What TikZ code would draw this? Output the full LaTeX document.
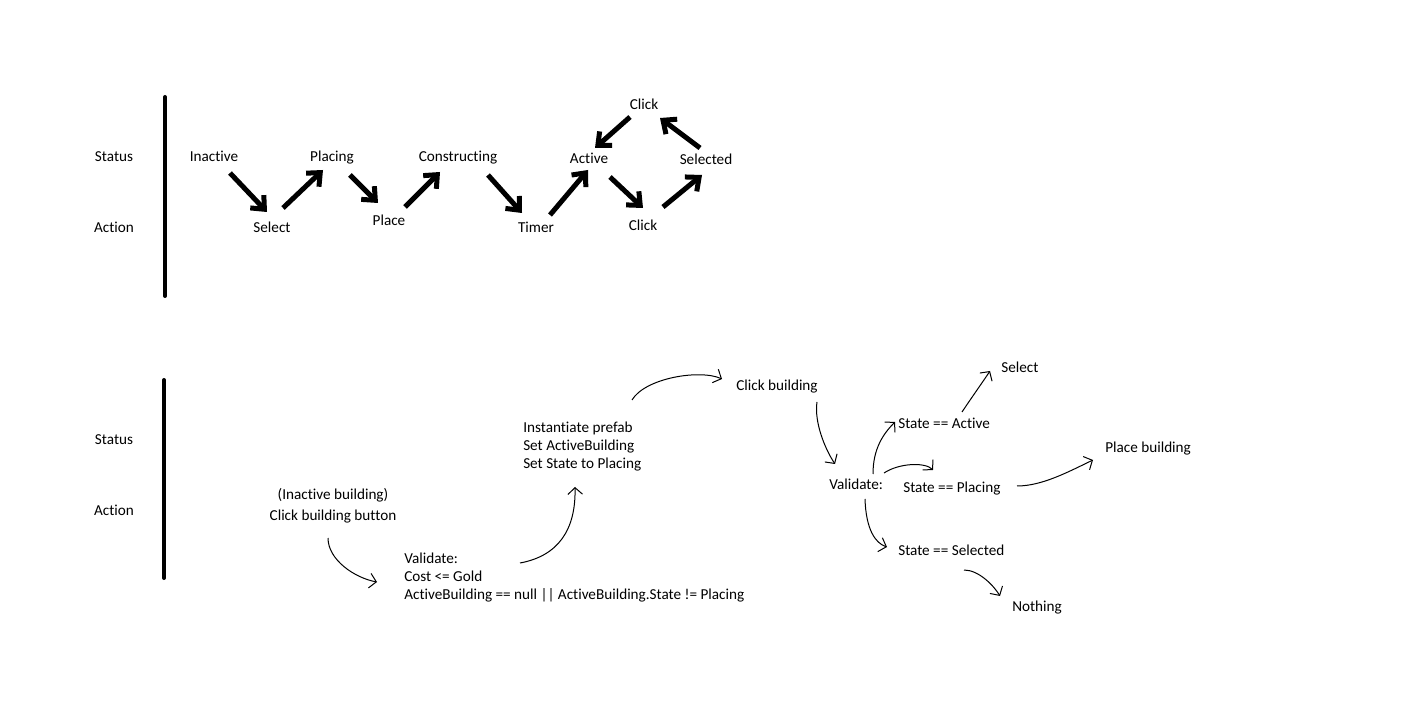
\documentclass[tikz,border=0pt]{standalone}
\usepackage{fontspec}
\setmainfont{Carlito}[Ligatures=NoCommon]
\usetikzlibrary{arrows.meta}
\begin{document}
\begin{tikzpicture}[x=0.75pt,y=-0.75pt,
  lbl/.style={inner sep=0pt,text height=7.5pt,text depth=0pt,yshift=-0.75pt,font=\fontsize{11.4pt}{13.5pt}\selectfont},
  lblw/.style={lbl,anchor=west},
  blk/.style={inner sep=0pt,align=left,anchor=north west,font=\fontsize{11.4pt}{13.5pt}\selectfont},
  bar/.style={line width=3pt,line cap=round},
  bold/.style={line width=3.75pt,-{Straight Barb[length=8pt,width=14pt]}},
  thin/.style={line width=0.75pt,-{Straight Barb[length=5pt,width=11pt]}}]
\useasboundingbox[fill=white] (0,0) rectangle (1418,723);

% ---------- state machine overview ----------
\draw[bar] (165,97) -- (165,296);
\node[lbl] (status1) at (114,156) {Status};
\node[lbl] (action1) at (114,227) {Action};

\node[lbl] (inactive) at (214,156) {Inactive};
\node[lbl] (select) at (272,227) {Select};
\node[lbl] (placing) at (332,156) {Placing};
\node[lbl] (place) at (389,220) {Place};
\node[lbl] (constructing) at (458,156) {Constructing};
\node[lbl] (timer) at (536,227) {Timer};
\node[lbl] (active) at (589,158) {Active};
\node[lbl] (clicktop) at (644,104) {Click};
\node[lbl] (selected) at (706,159) {Selected};
\node[lbl] (clickbot) at (643,225) {Click};

\draw[bold] ([shift={(16,16)}]inactive.center) -- ([shift={(-5,-16)}]select.center);
\draw[bold] ([shift={(11,-20)}]select.center) -- ([shift={(-9,13)}]placing.center);
\draw[bold] ([shift={(18,18)}]placing.center) -- ([shift={(-11,-18)}]place.center);
\draw[bold] ([shift={(16,-14)}]place.center) -- ([shift={(-18,15)}]constructing.center);
\draw[bold] ([shift={(30,18)}]constructing.center) -- ([shift={(-14,-15)}]timer.center);
\draw[bold] ([shift={(14,-13)}]timer.center) -- ([shift={(-1,11)}]active.center);
\draw[bold] ([shift={(21,18)}]active.center) -- ([shift={(0,-18)}]clickbot.center);
\draw[bold] ([shift={(20,-19)}]clickbot.center) -- ([shift={(-4,15)}]selected.center);
\draw[bold] ([shift={(-6,-12)}]selected.center) -- ([shift={(16,13)}]clicktop.center);
\draw[bold] ([shift={(-14,12)}]clicktop.center) -- ([shift={(6,-11)}]active.center);

% ---------- building flow ----------
\draw[bar] (164,380) -- (164,578);
\node[lbl] (status2) at (114,439) {Status};
\node[lbl] (action2) at (114,510) {Action};

\node[blk,anchor=center,align=center] (btn) at (333,506) {(Inactive building)\\[2.25pt]Click building button};
\node[blk] (validate1) at (404,553) {Validate:\\Cost <= Gold\\ActiveBuilding == null || ActiveBuilding.State != Placing};
\node[blk] (instantiate) at (523,422) {Instantiate prefab\\Set ActiveBuilding\\Set State to Placing};
\node[lblw] (clickbuilding) at (736,385) {Click building};
\node[lblw] (validate2) at (829,483) {Validate:};
\node[lblw] (stateactive) at (898,423) {State == Active};
\node[lblw] (select2) at (1001,367) {Select};
\node[lblw] (placebuilding) at (1105,447) {Place building};
\node[lblw] (stateplacing) at (903,487) {State == Placing};
\node[lblw] (stateselected) at (898,550) {State == Selected};
\node[lblw] (nothing) at (1012,605) {Nothing};

\draw[thin] ([shift={(-5,32)}]btn.center) .. controls +(0,22) and +(-22,-4) .. ([shift={(-27,29)}]validate1.north west);
\draw[thin] ([shift={(116,10)}]validate1.north west) .. controls +(38,-7) and +(1,43) .. ([shift={(52,65)}]instantiate.north west);
\draw[thin] ([shift={(109,-22)}]instantiate.north west) .. controls +(13,-22) and +(-22,-10) .. ([shift={(-14,-7)}]clickbuilding.west);
\draw[thin] ([shift={(81,16)}]clickbuilding.west) .. controls +(-3,20) and +(-10,-15) .. ([shift={(6,-20)}]validate2.west);
\draw[thin] ([shift={(44,-10)}]validate2.west) .. controls +(0,-25) and +(-12,12) .. ([shift={(-3,-2)}]stateactive.west);
\draw[thin] ([shift={(55,-11)}]validate2.west) .. controls +(15,-10) and +(-8,-8) .. ([shift={(30,-18)}]stateplacing.west);
\draw[thin] ([shift={(36,15)}]validate2.west) .. controls +(1,30) and +(-12,-4) .. ([shift={(-11,-4)}]stateselected.west);
\draw[thin] ([shift={(64,-12)}]stateactive.west) .. controls +(10,-15) and +(-8,12) .. ([shift={(-11,3)}]select2.west);
\draw[thin] ([shift={(114,-2)}]stateplacing.west) .. controls +(25,0) and +(-25,12) .. ([shift={(-12,12)}]placebuilding.west);
\draw[thin] ([shift={(66,19)}]stateselected.west) .. controls +(15,0) and +(-6,-10) .. ([shift={(-12,-10)}]nothing.west);
\end{tikzpicture}
\end{document}
